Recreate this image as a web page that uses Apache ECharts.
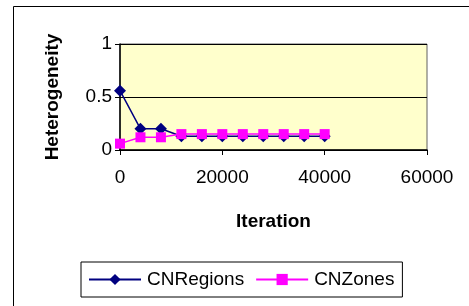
<!DOCTYPE html>
<html>
<head>
<meta charset="utf-8">
<script src="https://cdn.jsdelivr.net/npm/echarts@6/dist/echarts.min.js"></script>
<style>html,body{margin:0;padding:0;background:#fff}#c{width:469px;height:306px}</style>
</head>
<body>
<div id="c"></div>
<script>
var iterations = [0, 4000, 8000, 12000, 16000, 20000, 24000, 28000, 32000, 36000, 40000];
var cnRegions = [0.56, 0.20, 0.20, 0.13, 0.13, 0.13, 0.13, 0.13, 0.13, 0.13, 0.13];
var cnZones = [0.06, 0.12, 0.12, 0.15, 0.15, 0.15, 0.15, 0.15, 0.15, 0.15, 0.15];
var xTicks = [0, 20000, 40000, 60000];
var yTicks = [0, 0.5, 1];

function pairs(xs, ys){ return xs.map(function(x,i){return [x, ys[i]];}); }

var chart = echarts.init(document.getElementById('c'), null, {renderer:'canvas'});
var font = 'Arial, "Liberation Sans", sans-serif';
chart.setOption({
  animation:false,
  backgroundColor:'#fff',
  textStyle:{fontFamily:font},
  graphic:[{type:'rect', shape:{x:13.5,y:6.5,width:600,height:400}, style:{fill:'none',stroke:'#000',lineWidth:1}, z:-1}],
  grid:{left:120, right:42, top:44, bottom:156, show:true, backgroundColor:'#FFFFCC', borderColor:'#606060', borderWidth:1},
  xAxis:{type:'value', min:xTicks[0], max:xTicks[xTicks.length-1], interval:20000,
    name:'Iteration', nameLocation:'middle', nameGap:62,
    nameTextStyle:{fontSize:19, fontWeight:'bold', color:'#000', fontFamily:font},
    axisLine:{show:true, onZero:false, lineStyle:{color:'#000', width:1.5}},
    axisTick:{show:true, length:5, lineStyle:{color:'#000'}},
    axisLabel:{fontSize:19, color:'#000', margin:18, fontFamily:font, formatter:function(v){return String(v);}},
    splitLine:{show:false}},
  yAxis:{type:'value', min:yTicks[0], max:yTicks[yTicks.length-1], interval:0.5,
    name:'Heterogeneity', nameLocation:'middle', nameGap:58,
    nameTextStyle:{fontSize:19, fontWeight:'bold', color:'#000', fontFamily:font},
    axisLine:{show:true, onZero:false, lineStyle:{color:'#000', width:1.5}},
    axisTick:{show:true, length:5, lineStyle:{color:'#000'}},
    axisLabel:{fontSize:19, color:'#000', margin:8, fontFamily:font, formatter:function(v){return String(v);}},
    splitLine:{show:true, lineStyle:{color:'#000', width:1}}},
  legend:{left:81, top:262, orient:'horizontal', padding:[8,8,8,7],
    borderColor:'#000', borderWidth:1, itemWidth:52, itemHeight:14, itemGap:11,
    textStyle:{fontSize:19, color:'#000', fontFamily:font, padding:[0,0,0,1]},
    data:['CNRegions','CNZones']},
  series:[
    {name:'CNRegions', type:'line', data:pairs(iterations, cnRegions), symbol:'diamond', symbolSize:12,
      lineStyle:{color:'#000080', width:1.5}, itemStyle:{color:'#000080'}, z:2},
    {name:'CNZones', type:'line', data:pairs(iterations, cnZones), symbol:'rect', symbolSize:10,
      lineStyle:{color:'#FF00FF', width:1.5}, itemStyle:{color:'#FF00FF'}, z:3}
  ]
});
</script>
</body>
</html>
